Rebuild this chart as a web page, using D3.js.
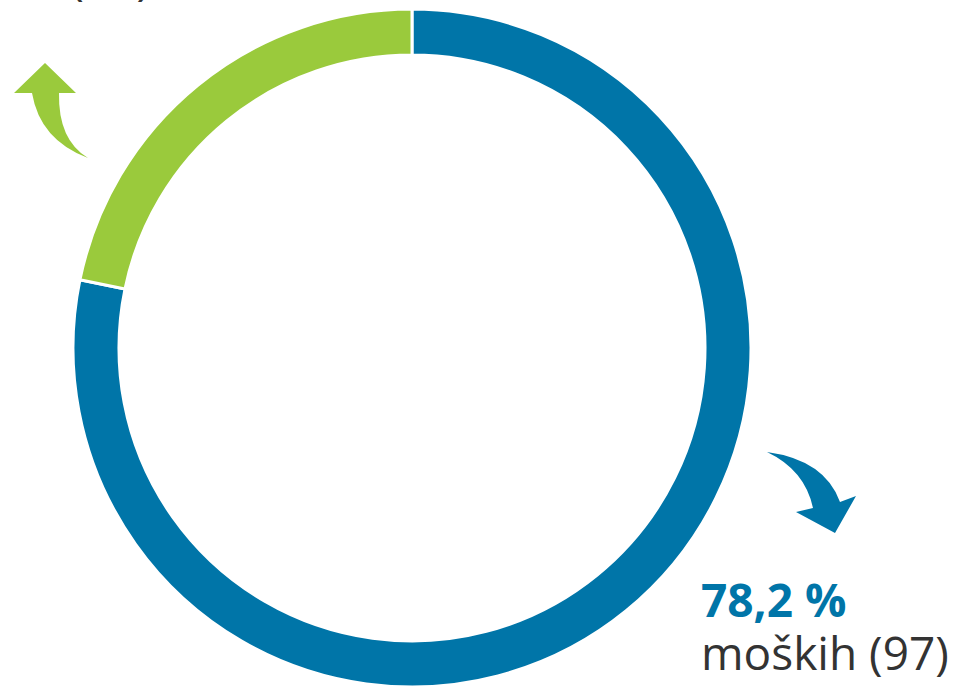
<!DOCTYPE html>
<html>
<head>
<meta charset="utf-8">
<script src="https://cdn.jsdelivr.net/npm/d3@7"></script>
<style>
  body { margin: 0; background: #fff; }
  svg { display: block; }
</style>
</head>
<body>
<div id="canvas"></div>
<script>
const groups = ["moških", "žensk"];
const counts = [97, 27];
const colors = ["#0075a8", "#9aca3c"];

const width = 956;
const height = 689;
const cx = 412, cy = 348;
const outerR = 339, innerR = 293;

const svg = d3.select("#canvas").append("svg")
    .attr("width", width)
    .attr("height", height);

const total = d3.sum(counts);
const fmt = v => d3.format(".1f")(v).replace(".", ",") + " %";

const pie = d3.pie().sort(null).value(d => d);
const arc = d3.arc().innerRadius(innerR).outerRadius(outerR);

const g = svg.append("g").attr("transform", `translate(${cx},${cy})`);
g.selectAll("path")
    .data(pie(counts))
    .enter().append("path")
    .attr("d", arc)
    .attr("fill", (d, i) => colors[i])
    .attr("stroke", "#fff")
    .attr("stroke-width", 3);

// arrows
svg.append("path")
    .attr("d", "M767,452 Q825,460 840,502 L856,496 L835,533 L796,512 L813,508 Q805,470 767,452 Z")
    .attr("fill", colors[0]);
svg.append("path")
    .attr("d", "M14,93 L45,63 L76,93 L59,93 Q58,140 88,158 Q40,140 32,93 Z")
    .attr("fill", colors[1]);

// labels
const font = "'Open Sans', 'Segoe UI', sans-serif";
const lab = [
    { x: 701, y: 617, anchor: "start" },
    { x: 150, y: -58, anchor: "end" }
];
counts.forEach((c, i) => {
    const t = svg.append("g");
    t.append("text")
        .attr("x", lab[i].x).attr("y", lab[i].y)
        .attr("text-anchor", lab[i].anchor)
        .style("font-family", font)
        .style("font-size", "46px")
        .style("font-weight", "bold")
        .attr("fill", colors[i])
        .text(fmt(c / total * 100));
    t.append("text")
        .attr("x", lab[i].x).attr("y", lab[i].y + 53)
        .attr("text-anchor", lab[i].anchor)
        .style("font-family", font)
        .style("font-size", "46px")
        .attr("fill", "#333")
        .text(`${groups[i]} (${c})`);
});
</script>
</body>
</html>
